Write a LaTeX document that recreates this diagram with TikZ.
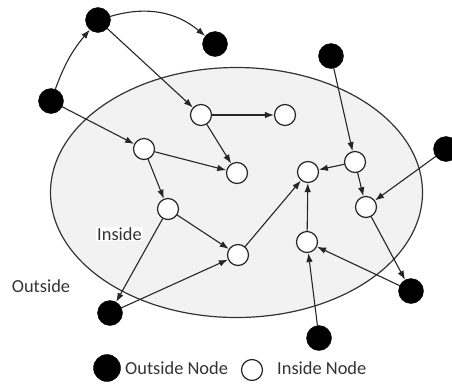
\documentclass[tikz,border=0pt]{standalone}
\usepackage{fontspec}
\setmainfont{Carlito}
\usetikzlibrary{arrows.meta}
\begin{document}
\begin{tikzpicture}[x=1pt, y=-1pt, line join=round, line cap=round, >={Latex[length=9pt,width=6.5pt]},
	outnode/.style={circle, fill=black, draw=black, minimum size=25pt, inner sep=0pt},
	innode/.style={circle, fill=white, draw=black!85, line width=1.2pt, minimum size=21pt, inner sep=0pt},
	link/.style={->, line width=1.1pt, black!85},
	lbl/.style={font=\fontsize{18.4}{22}\selectfont, text=black!80, inner sep=1pt}]
				\useasboundingbox (0,0) rectangle (452,383);
				% 1. the region (ellipse)
				\draw[fill=black!5, draw=black!80, line width=1.2pt] (236.5,192.5) ellipse (186pt and 125pt);
				% 2. outside nodes (black)
				\foreach \n/\x/\y in {O1/98/20, O2/215/44, O3/51/101, O4/331/56, O5/446/149, O6/110/313, O7/411/291, O8/319/338} {
					\node[outnode] (\n) at (\x,\y) {};
				}
				% 3. inside nodes (white)
				\foreach \n/\x/\y in {I1/201/115, I2/285/115, I3/144/149, I4/237/173, I5/355/162, I6/308/172, I7/366/207, I8/168/209, I9/307/242, I10/238/255} {
					\node[innode] (\n) at (\x,\y) {};
				}
				% 4. links
				\draw[link] (O3) to[bend left=10] (O1);
				\draw[link] (O1) to[bend left=28] (O2);
				\foreach \a/\b in {O1/I1, O3/I3, I1/I2, I1/I4, I3/I4, I3/I8, O4/I5, I5/I6, I5/I7, O5/I7, I8/I10, I8/O6, O6/I10, I10/I6, I9/I6, O8/I9, O7/I9, I7/O7} {
					\draw[link] (\a) -- (\b);
				}
				% 5. labels
				\node[lbl, fill=white] (inlbl) at (119.5,234) {Inside};
				\node[lbl] (outlbl) at (41,286) {Outside};
				% 6. legend
				\node[outnode, minimum size=27pt] (keyout) at (107,368) {};
				\node[lbl, anchor=west] (keyouttxt) at (124,368) {Outside Node};
				\node[innode, minimum size=21pt] (keyin) at (252,370) {};
				\node[lbl, anchor=west] (keyintxt) at (276,368) {Inside Node};
			\end{tikzpicture}
\end{document}
